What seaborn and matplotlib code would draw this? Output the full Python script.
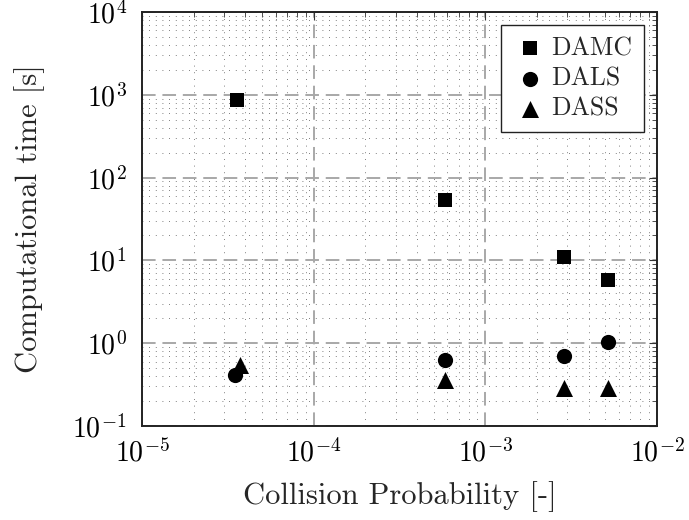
import matplotlib
matplotlib.use("Agg")
import matplotlib.pyplot as plt
import matplotlib.ticker as mticker
import seaborn as sns
import pandas as pd
import numpy as np

# ---- data ----
methods = ["DAMC", "DALS", "DASS"]
x_damc = [3.6e-5, 5.8e-4, 2.87e-3, 5.2e-3]
y_damc = [870, 54, 11, 5.8]
x_dals = [3.5e-5, 5.8e-4, 2.87e-3, 5.2e-3]
y_dals = [0.41, 0.635, 0.70, 1.04]
x_dass = [3.7e-5, 5.8e-4, 2.87e-3, 5.2e-3]
y_dass = [0.54, 0.36, 0.29, 0.29]
xlabel = "Collision Probability [-]"
ylabel = "Computational time [s]"

df = pd.concat([
    pd.DataFrame({"x": x_damc, "y": y_damc, "method": "DAMC"}),
    pd.DataFrame({"x": x_dals, "y": y_dals, "method": "DALS"}),
    pd.DataFrame({"x": x_dass, "y": y_dass, "method": "DASS"}),
], ignore_index=True)

sns.set_theme(style="white")
plt.rcParams["font.family"] = ["cmr10", "DejaVu Serif"]
plt.rcParams["mathtext.fontset"] = "cm"
plt.rcParams["axes.formatter.use_mathtext"] = True
plt.rcParams["axes.unicode_minus"] = False

fig = plt.figure(figsize=(6.89, 5.20), dpi=100)
ax = fig.add_axes([142 / 689, 1 - 426 / 520, (657 - 142) / 689, (426 - 12) / 520])

markers = {"DAMC": "s", "DALS": "o", "DASS": "^"}
sizes = {"DAMC": 110, "DALS": 120, "DASS": 150}
for m in methods:
    sub = df[df["method"] == m]
    sns.scatterplot(data=sub, x="x", y="y", marker=markers[m], s=sizes[m],
                    color="black", edgecolor="black", linewidth=0, label=m,
                    ax=ax, zorder=5)

ax.set_xscale("log")
ax.set_yscale("log")
ax.set_xlim(1e-5, 1e-2)
ax.set_ylim(1e-1, 1e4)

ax.xaxis.set_major_locator(mticker.LogLocator(base=10, numticks=10))
ax.yaxis.set_major_locator(mticker.LogLocator(base=10, numticks=10))
ax.xaxis.set_minor_locator(mticker.LogLocator(base=10, subs=np.arange(2, 10), numticks=20))
ax.yaxis.set_minor_locator(mticker.LogLocator(base=10, subs=np.arange(2, 10), numticks=20))
ax.xaxis.set_minor_formatter(mticker.NullFormatter())
ax.yaxis.set_minor_formatter(mticker.NullFormatter())

ax.grid(which="major", linestyle=(0, (7, 3.5)), color="#a8a8a8", linewidth=1.4, zorder=1)
ax.grid(which="minor", linestyle=(0, (1, 7)), color="#555555", linewidth=0.6, zorder=0)
ax.set_axisbelow(True)

ax.tick_params(which="both", direction="in", top=True, right=True, colors="#333333",
               labelcolor="black")
ax.tick_params(which="major", length=6, width=0.8, labelsize=20)
ax.tick_params(axis="y", which="major", pad=11)
ax.tick_params(axis="x", which="major", pad=9)
ax.tick_params(which="minor", length=3.5, width=0.6)

for sp in ax.spines.values():
    sp.set_color("#222222")
    sp.set_linewidth(1.4)

ax.set_xlabel(xlabel, fontsize=22, labelpad=10)
ax.set_ylabel(ylabel, fontsize=22, labelpad=20)

leg = ax.legend(loc="upper right", fontsize=18.5, frameon=True, fancybox=False,
                edgecolor="#222222", framealpha=1, borderpad=0.45, handletextpad=0.2,
                labelspacing=0.25, borderaxespad=0.5, handlelength=1.3)
leg.get_frame().set_linewidth(1.0)

fig.savefig("out.png", dpi=100)
